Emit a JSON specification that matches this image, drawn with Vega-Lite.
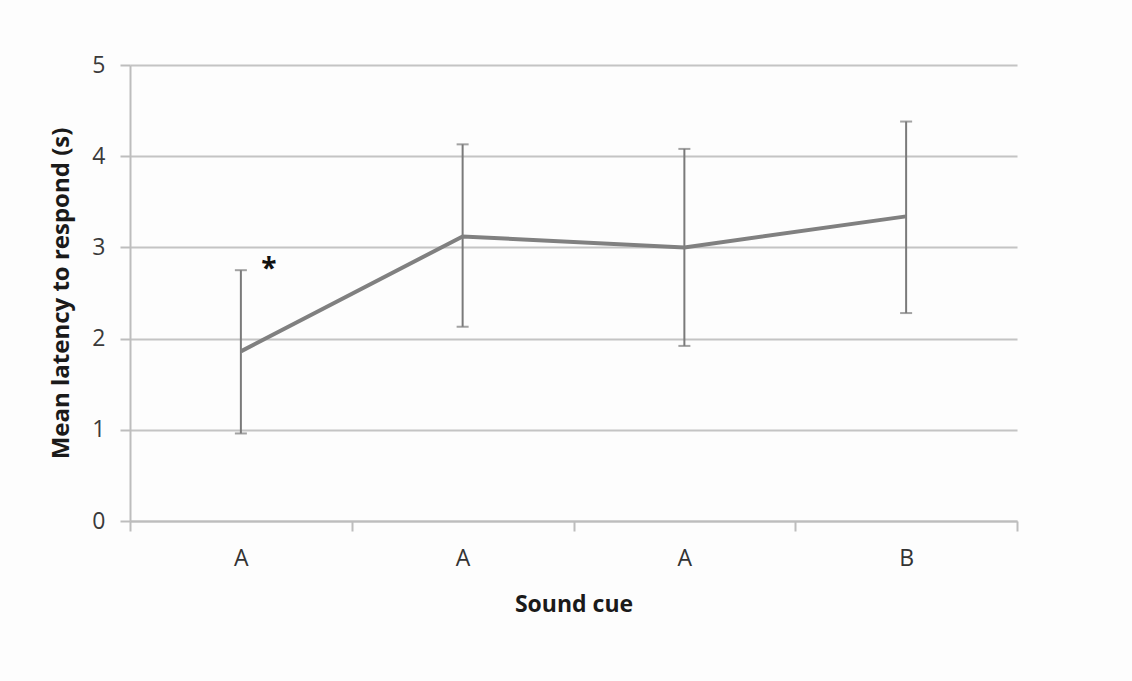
{
  "$schema": "https://vega.github.io/schema/vega-lite/v6.json",
  "width": 887,
  "height": 456,
  "autosize": {"type": "none"},
  "padding": {"left": 130, "top": 65, "right": 115, "bottom": 160},
  "background": "#fdfdfd",
  "config": {
    "view": {"stroke": null},
    "font": "Open Sans"
  },
  "data": {
    "values": [
      {"cue": "A 1", "mean": 1.86, "lo": 0.96, "hi": 2.75, "note": "*", "noteY": 2.84},
      {"cue": "A 2", "mean": 3.12, "lo": 2.13, "hi": 4.13, "note": "", "noteY": null},
      {"cue": "A 3", "mean": 3.0, "lo": 1.92, "hi": 4.08, "note": "", "noteY": null},
      {"cue": "B 4", "mean": 3.34, "lo": 2.28, "hi": 4.38, "note": "", "noteY": null}
    ]
  },
  "encoding": {
    "x": {
      "field": "cue",
      "type": "nominal",
      "sort": null,
      "scale": {"type": "band", "paddingInner": 0, "paddingOuter": 0},
      "axis": {
        "title": "Sound cue",
        "labelExpr": "split(datum.label, ' ')[0]",
        "labelAngle": 0,
        "labelFontSize": 23,
        "labelColor": "#333333",
        "labelPadding": 16,
        "tickBand": "extent",
        "tickSize": 10,
        "tickColor": "#bdbdbd",
        "tickWidth": 2,
        "domainColor": "#bdbdbd",
        "domainWidth": 2,
        "grid": false,
        "titleFontSize": 23,
        "titleFontWeight": "bold",
        "titleColor": "#1a1a1a",
        "titlePadding": 23
      }
    }
  },
  "layer": [
    {
      "mark": {"type": "rule", "color": "#7a7a7a", "strokeWidth": 2},
      "encoding": {
        "y": {
          "field": "lo",
          "type": "quantitative",
          "scale": {"domain": [0, 5]},
          "axis": {
            "title": "Mean latency to respond (s)",
            "values": [0, 1, 2, 3, 4, 5],
            "format": "d",
            "labelFontSize": 23,
            "labelColor": "#3a3a3a",
            "labelPadding": 15,
            "tickSize": 10,
            "tickColor": "#bdbdbd",
            "tickWidth": 2,
            "domainColor": "#bdbdbd",
            "domainWidth": 2,
            "gridColor": "#c4c4c4",
            "gridWidth": 2,
            "titleFontSize": 24,
            "titleFontWeight": "bold",
            "titleColor": "#1a1a1a",
            "titlePadding": 18
          }
        },
        "y2": {"field": "hi"}
      }
    },
    {
      "mark": {"type": "tick", "color": "#7a7a7a", "thickness": 2, "size": 12},
      "encoding": {"y": {"field": "lo", "type": "quantitative"}}
    },
    {
      "mark": {"type": "tick", "color": "#7a7a7a", "thickness": 2, "size": 12},
      "encoding": {"y": {"field": "hi", "type": "quantitative"}}
    },
    {
      "mark": {"type": "line", "color": "#808080", "strokeWidth": 4},
      "encoding": {"y": {"field": "mean", "type": "quantitative"}}
    },
    {
      "mark": {"type": "text", "fontSize": 28, "fontWeight": "bold", "color": "#111111", "dx": 28, "dy": 8},
      "encoding": {
        "y": {"field": "noteY", "type": "quantitative"},
        "text": {"field": "note"}
      }
    }
  ]
}
